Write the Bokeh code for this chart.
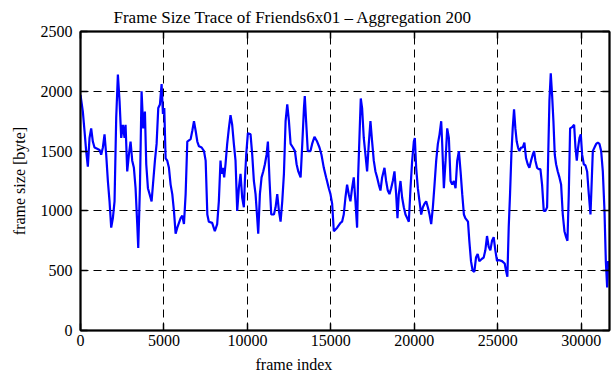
from bokeh.plotting import figure
from bokeh.models import Range1d, LinearAxis, Title, FixedTicker
from bokeh.embed import file_html
from bokeh.resources import INLINE

# ---- data ----
frame_index = [
    0, 140, 240, 340, 440, 540, 640, 740, 840, 1000, 1140, 1240, 1340, 1440, 1540, 1640, 1740, 1840, 1940, 2040,
    2140, 2240, 2340, 2440, 2540, 2640, 2700, 2800, 2900, 3000, 3100, 3200, 3300, 3400, 3460, 3560, 3660, 3760, 3860, 3940,
    4040, 4140, 4260, 4360, 4460, 4560, 4660, 4760, 4860, 4940, 5020, 5100, 5200, 5300, 5400, 5500, 5600, 5700, 5800, 5900,
    6000, 6100, 6200, 6300, 6400, 6600, 6700, 6800, 6900, 7000, 7100, 7260, 7400, 7500, 7600, 7690, 7890, 8050, 8190, 8290,
    8390, 8450, 8530, 8610, 8690, 8790, 8890, 8990, 9090, 9190, 9290, 9390, 9490, 9590, 9690, 9790, 9850, 9930, 10030, 10190,
    10290, 10390, 10490, 10590, 10650, 10750, 10850, 10950, 11050, 11150, 11230, 11330, 11430, 11590, 11690, 11790, 11890, 11990, 12090, 12190,
    12290, 12390, 12490, 12590, 12730, 12850, 12950, 13050, 13190, 13290, 13390, 13440, 13520, 13620, 13780, 13880, 14020, 14180, 14320, 14440,
    14580, 14720, 14880, 14980, 15080, 15180, 15380, 15580, 15675, 15775, 15875, 15975, 16075, 16175, 16275, 16375, 16475, 16575, 16635, 16715,
    16795, 16875, 16975, 17075, 17175, 17275, 17375, 17475, 17575, 17675, 17775, 17875, 17975, 18075, 18215, 18315, 18415, 18515, 18615, 18715,
    18815, 18915, 18995, 19075, 19175, 19275, 19375, 19475, 19575, 19675, 19775, 19875, 19975, 20035, 20115, 20215, 20315, 20415, 20515, 20615,
    20715, 20815, 20915, 21015, 21115, 21215, 21315, 21415, 21515, 21615, 21675, 21775, 21875, 21975, 22075, 22175, 22275, 22375, 22475, 22575,
    22675, 22775, 22875, 22975, 23060, 23220, 23300, 23400, 23500, 23600, 23700, 23800, 23900, 24060, 24160, 24260, 24360, 24460, 24560, 24660,
    24760, 24860, 24960, 25060, 25260, 25420, 25500, 25580, 25660, 25740, 25820, 25900, 25980, 26060, 26140, 26220, 26300, 26400, 26500, 26600,
    26700, 26800, 26900, 27000, 27100, 27180, 27260, 27360, 27460, 27560, 27660, 27760, 27860, 27960, 28020, 28100, 28180, 28260, 28340, 28420,
    28500, 28600, 28700, 28800, 28900, 29000, 29100, 29180, 29260, 29340, 29460, 29580, 29660, 29740, 29820, 29900, 29980, 30060, 30160, 30260,
    30360, 30460, 30560, 30620, 30700, 30800, 30900, 31000, 31100, 31200, 31300, 31400, 31480, 31560, 31620, 31660,
]
frame_size = [
    1970, 1830, 1670, 1500, 1370, 1610, 1690, 1580, 1530, 1520, 1510, 1470, 1530, 1640, 1470, 1250, 1080, 860, 940, 1080,
    1780, 2140, 1920, 1610, 1720, 1610, 1720, 1330, 1470, 1580, 1420, 1360, 1190, 890, 690, 1190, 2000, 1690, 1830, 1390,
    1190, 1140, 1080, 1250, 1420, 1560, 1860, 1890, 2060, 1810, 1860, 1440, 1420, 1360, 1220, 1140, 1000, 810, 860, 900,
    940, 960, 890, 1140, 1580, 1600, 1670, 1750, 1670, 1580, 1540, 1530, 1500, 1420, 970, 910, 900, 830, 890, 1080,
    1420, 1310, 1360, 1280, 1390, 1560, 1690, 1800, 1720, 1560, 1420, 1000, 1190, 1310, 1110, 1030, 1250, 1470, 1650, 1640,
    1470, 1250, 1140, 940, 810, 1140, 1280, 1330, 1390, 1470, 1580, 1250, 970, 970, 1030, 1140, 1000, 910, 1080, 1310,
    1750, 1890, 1750, 1560, 1530, 1500, 1390, 1330, 1280, 1560, 1860, 1960, 1750, 1500, 1500, 1560, 1620, 1580, 1530, 1470,
    1360, 1280, 1190, 1140, 1060, 830, 860, 900, 910, 970, 1110, 1220, 1140, 1080, 1190, 1280, 1080, 860, 1280, 1610,
    1940, 1860, 1610, 1470, 1330, 1560, 1750, 1580, 1420, 1330, 1280, 1220, 1170, 1280, 1360, 1250, 1170, 1140, 1190, 1250,
    1330, 1140, 940, 1140, 1250, 1110, 1030, 970, 940, 910, 1190, 1420, 1580, 1610, 1360, 1190, 1080, 970, 1030, 1060,
    1080, 1030, 970, 890, 1030, 1220, 1420, 1560, 1640, 1750, 1560, 1190, 1420, 1690, 1610, 1250, 1220, 1250, 1190, 1420,
    1500, 1330, 1140, 970, 940, 910, 750, 580, 500, 490, 610, 640, 580, 600, 610, 670, 790, 700, 670, 750,
    780, 670, 580, 590, 580, 560, 500, 450, 860, 1140, 1470, 1690, 1850, 1690, 1580, 1530, 1500, 1530, 1530, 1570,
    1440, 1390, 1360, 1420, 1470, 1500, 1420, 1360, 1350, 1350, 1220, 1000, 1000, 1030, 1420, 1920, 2150, 1970, 1750, 1470,
    1390, 1330, 1280, 1220, 970, 830, 780, 750, 1140, 1690, 1700, 1720, 1530, 1420, 1530, 1610, 1640, 1470, 1390, 1380,
    1330, 1140, 970, 1190, 1500, 1530, 1560, 1570, 1560, 1500, 1330, 1000, 580, 360, 580, 530,
]
x_ticks = [0, 5000, 10000, 15000, 20000, 25000, 30000]
y_ticks = [0, 500, 1000, 1500, 2000, 2500]
x_max = 31700
y_max = 2500
title_text = "Frame Size Trace of Friends6x01 \u2013 Aggregation 200"
x_label_text = "frame index"
y_label_text = "frame size [byte]"

FONT = "Liberation Serif"

p = figure(width=611, height=380, output_backend="svg", toolbar_location=None,
           x_range=Range1d(0, x_max), y_range=Range1d(0, y_max),
           min_border_left=80, min_border_right=2, min_border_top=31, min_border_bottom=50,
           background_fill_color="white", border_fill_color="white")

p.line(frame_index, frame_size, line_color="#0000ff", line_width=2.2)

p.outline_line_color = "black"
p.outline_line_width = 1.5

for g, t in ((p.xgrid, x_ticks), (p.ygrid, y_ticks)):
    g.ticker = FixedTicker(ticks=t)
    g.grid_line_color = "black"
    g.grid_line_alpha = 1.0
    g.grid_line_dash = "8 5"
    g.grid_line_width = 1

def style_axis(ax, ticks, show_labels=True):
    ax.ticker = FixedTicker(ticks=ticks)
    ax.axis_line_color = "black"
    ax.axis_line_width = 2
    ax.major_tick_in = 7
    ax.major_tick_out = 0
    ax.major_tick_line_color = "black"
    ax.major_tick_line_width = 1.5
    ax.minor_tick_line_color = None
    ax.major_label_text_font = FONT
    ax.major_label_text_color = "black"
    ax.major_label_text_font_size = "16px"
    if not show_labels:
        ax.major_label_overrides = {t: "" for t in ticks}
        ax.major_label_standoff = 0

style_axis(p.xaxis[0], x_ticks)
style_axis(p.yaxis[0], y_ticks)
p.xaxis.major_label_standoff = 4
p.yaxis.major_label_standoff = 8
p.yaxis.axis_label = y_label_text
p.yaxis.axis_label_text_font = FONT
p.yaxis.axis_label_text_font_size = "16px"
p.yaxis.axis_label_text_font_style = "normal"
p.yaxis.axis_label_text_color = "black"
p.yaxis.axis_label_standoff = 10

top_axis = LinearAxis()
right_axis = LinearAxis()
style_axis(top_axis, x_ticks, show_labels=False)
style_axis(right_axis, y_ticks, show_labels=False)
p.add_layout(top_axis, "above")
p.add_layout(right_axis, "right")

p.title = Title(text=title_text, align="left", offset=33, text_font=FONT,
                text_font_size="17px", text_font_style="normal", text_color="black", standoff=10)
p.add_layout(Title(text=x_label_text, align="left", offset=175, text_font=FONT,
                   text_font_size="16px", text_font_style="normal", text_color="black", standoff=10), "below")

open("out.html", "w").write(file_html(p, INLINE))
